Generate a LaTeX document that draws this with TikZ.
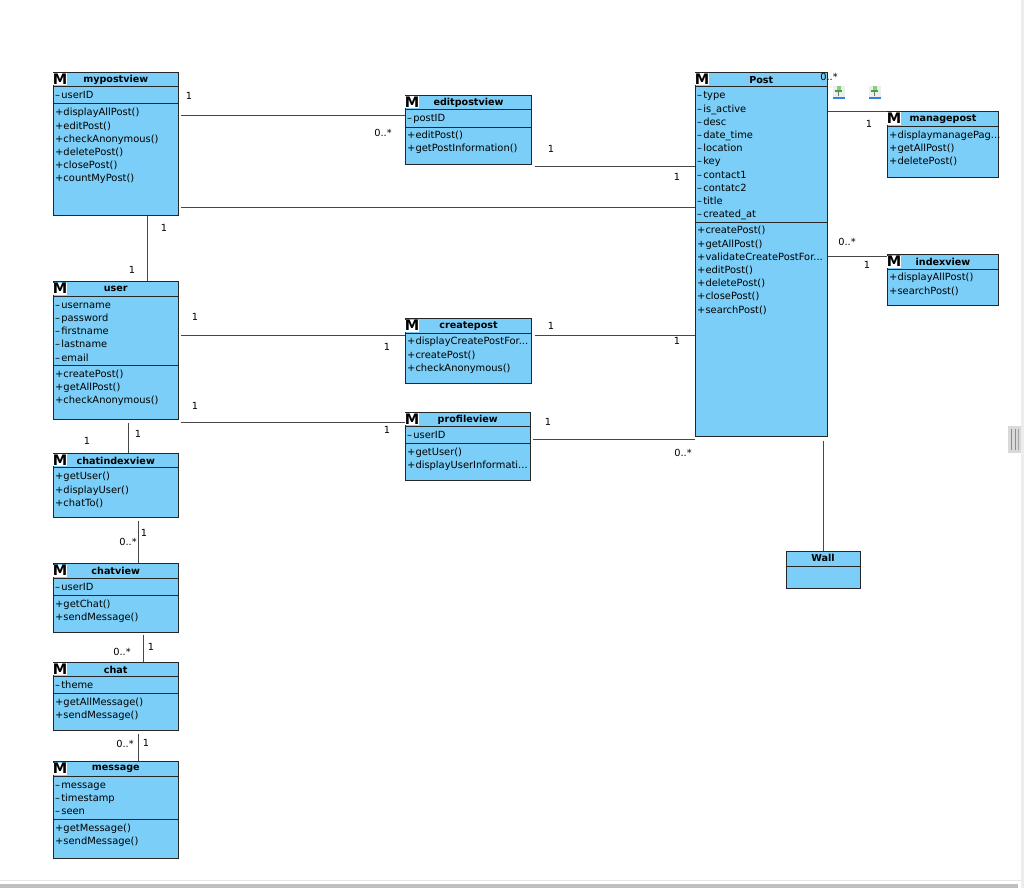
\documentclass[tikz,border=0pt]{standalone}
\usepackage{fontspec}
\setmainfont{DejaVu Sans}
\usepackage{tikz}
\usetikzlibrary{calc}
\definecolor{umlblue}{RGB}{122,206,247}
\definecolor{linegray}{RGB}{70,70,70}
\definecolor{pinback}{RGB}{236,240,236}
\definecolor{pinblue}{RGB}{50,130,225}
\definecolor{pingreen}{RGB}{60,170,50}

\newcommand{\umlclass}[6]{%
  \node[classbox, minimum width=#4, minimum height=#5] (#1) at (#2,#3) {};
  \node[classtitle] (#1title) at ($(#1.north)+(0,8.2)$) {#6};
  \node[classicon] (#1icon) at ($(#1.north west)+(7,7.5)$) {M};
}
\newcommand{\fl}{\rule{0pt}{9pt}}
\newcommand{\mn}{--\kern1.2pt}

\begin{document}
\begin{tikzpicture}[
  x=1pt, y=-1pt,
  classbox/.style={draw=black!85, fill=umlblue, line width=1pt, anchor=north west, inner sep=0pt},
  classtitle/.style={font=\fontsize{9.6}{12}\selectfont\bfseries, inner sep=0pt},
  classicon/.style={font=\fontsize{14.5}{15}\selectfont\bfseries, fill=white, inner sep=0pt, minimum width=12pt, minimum height=12pt, text height=10.5pt},
  members/.style={font=\fontsize{9.9}{13.2}\selectfont, align=left, anchor=north west, inner sep=0pt},
  sepline/.style={draw=black!85, line width=1pt},
  conn/.style={draw=linegray, line width=1pt},
  mult/.style={font=\fontsize{9.8}{12}\selectfont, inner sep=0pt},
]
\useasboundingbox (0,0) rectangle (1024,888);

% Window edges
\fill[black!7] (1021,0) rectangle (1024,888);
\fill[black!10] (0,880) rectangle (1021,881);
\fill[black!25] (0,884) rectangle (1018,888);
\fill[black!15] (1008,426) rectangle (1021,453);
\fill[black!45] (1011,429) rectangle (1012,450);
\fill[black!45] (1014.5,429) rectangle (1015.5,450);
\fill[black!35] (1018,429) rectangle (1019,450);

% Classes
\umlclass{mypost}{53}{72}{124.5}{142.5}{mypostview}
\umlclass{user}{53}{281}{124.5}{138}{user}
\umlclass{chatindex}{53}{452.5}{124.5}{64.5}{chatindexview}
\umlclass{chatview}{53}{563}{124.5}{68.5}{chatview}
\umlclass{chat}{53}{661.5}{124.5}{68.5}{chat}
\umlclass{message}{53}{761}{124.5}{96.5}{message}
\umlclass{editpost}{405}{95}{126}{69}{editpostview}
\umlclass{createpost}{405}{318}{126}{65}{createpost}
\umlclass{profile}{405}{411.5}{124.5}{68.5}{profileview}
\umlclass{post}{695}{72}{131.5}{364}{Post}
\umlclass{managepost}{887}{111}{111}{65.5}{managepost}
\umlclass{indexview}{887}{254}{111}{50.5}{indexview}
\node[classbox, minimum width=74, minimum height=37] (wall) at (785.5,551) {};
\node[classtitle] (walltitle) at ($(wall.north)+(0,7)$) {Wall};

% Compartments
\draw[sepline] (mypost.west |- 0,87) -- (mypost.east |- 0,87);
\draw[sepline] (mypost.west |- 0,104) -- (mypost.east |- 0,104);
\draw[sepline] (user.west |- 0,296) -- (user.east |- 0,296);
\draw[sepline] (user.west |- 0,365) -- (user.east |- 0,365);
\draw[sepline] (chatindex.west |- 0,467) -- (chatindex.east |- 0,467);
\draw[sepline] (chatview.west |- 0,578) -- (chatview.east |- 0,578);
\draw[sepline] (chatview.west |- 0,595) -- (chatview.east |- 0,595);
\draw[sepline] (chat.west |- 0,676) -- (chat.east |- 0,676);
\draw[sepline] (chat.west |- 0,693) -- (chat.east |- 0,693);
\draw[sepline] (message.west |- 0,776) -- (message.east |- 0,776);
\draw[sepline] (message.west |- 0,819) -- (message.east |- 0,819);
\draw[sepline] (editpost.west |- 0,110) -- (editpost.east |- 0,110);
\draw[sepline] (editpost.west |- 0,127) -- (editpost.east |- 0,127);
\draw[sepline] (createpost.west |- 0,333) -- (createpost.east |- 0,333);
\draw[sepline] (profile.west |- 0,426.5) -- (profile.east |- 0,426.5);
\draw[sepline] (profile.west |- 0,443.5) -- (profile.east |- 0,443.5);
\draw[sepline] (post.west |- 0,87) -- (post.east |- 0,87);
\draw[sepline] (post.west |- 0,222) -- (post.east |- 0,222);
\draw[sepline] (managepost.west |- 0,126) -- (managepost.east |- 0,126);
\draw[sepline] (indexview.west |- 0,269) -- (indexview.east |- 0,269);
\draw[sepline] (wall.west |- 0,566) -- (wall.east |- 0,566);

% Members
\node[members] (mypostattr) at (55,89.7) {\fl\mn userID};
\node[members] (mypostops) at (55,106.7) {\fl+displayAllPost()\\+editPost()\\+checkAnonymous()\\+deletePost()\\+closePost()\\+countMyPost()};
\node[members] (userattr) at (55,299) {\fl\mn username\\\mn password\\\mn firstname\\\mn lastname\\\mn email};
\node[members] (userops) at (55,368.3) {\fl+createPost()\\+getAllPost()\\+checkAnonymous()};
\node[members] (chatindexops) at (55,470.7) {\fl+getUser()\\+displayUser()\\+chatTo()};
\node[members] (chatviewattr) at (55,581.3) {\fl\mn userID};
\node[members] (chatviewops) at (55,598) {\fl+getChat()\\+sendMessage()};
\node[members] (chatattr) at (55,679) {\fl\mn theme};
\node[members] (chatops) at (55,696) {\fl+getAllMessage()\\+sendMessage()};
\node[members] (messageattr) at (55,779) {\fl\mn message\\\mn timestamp\\\mn seen};
\node[members] (messageops) at (55,822) {\fl+getMessage()\\+sendMessage()};
\node[members] (editpostattr) at (407,112.3) {\fl\mn postID};
\node[members] (editpostops) at (407,129) {\fl+editPost()\\+getPostInformation()};
\node[members] (createpostops) at (407,335.7) {\fl+displayCreatePostFor...\\+createPost()\\+checkAnonymous()};
\node[members] (profileattr) at (407,429.3) {\fl\mn userID};
\node[members] (profileops) at (407,446.3) {\fl+getUser()\\+displayUserInformati...};
\node[members] (postattr) at (697,89.7) {\fl\mn type\\\mn is\_active\\\mn desc\\\mn date\_time\\\mn location\\\mn key\\\mn contact1\\\mn contatc2\\\mn title\\\mn created\_at};
\node[members] (postops) at (697,224.7) {\fl+createPost()\\+getAllPost()\\+validateCreatePostFor...\\+editPost()\\+deletePost()\\+closePost()\\+searchPost()};
\node[members] (manageops) at (889,129) {\fl+displaymanagePag...\\+getAllPost()\\+deletePost()};
\node[members] (indexops) at (889,271.7) {\fl+displayAllPost()\\+searchPost()};

% Associations
\draw[conn] (mypost.east |- 0,115.5) ++(2.5,0) -- (editpost.west |- 0,115.5);
\draw[conn] (editpost.east |- 0,166.5) ++(2.5,0) -- (post.west |- 0,166.5);
\draw[conn] (mypost.east |- 0,207.5) ++(2.5,0) -- (post.west |- 0,207.5);
\draw[conn] (mypost.south -| 147.5,0) -- (user.north -| 147.5,0);
\draw[conn] (user.east |- 0,335.5) ++(2.5,0) -- (createpost.west |- 0,335.5);
\draw[conn] (createpost.east |- 0,335.5) ++(2.5,0) -- (post.west |- 0,335.5);
\draw[conn] (user.east |- 0,422.5) ++(2.5,0) -- (profile.west |- 0,422.5);
\draw[conn] (profile.east |- 0,439.5) ++(2.5,0) -- (post.west |- 0,439.5);
\draw[conn] (post.east |- 0,112) -- (managepost.west |- 0,112);
\draw[conn] (post.east |- 0,256.5) -- (indexview.west |- 0,256.5);
\draw[conn] (post.south -| 823.5,0) ++(0,3.5) -- (wall.north -| 823.5,0);
\draw[conn] (user.south -| 128.5,0) ++(0,3) -- (chatindex.north -| 128.5,0);
\draw[conn] (chatindex.south -| 138.5,0) ++(0,3) -- (chatview.north -| 138.5,0);
\draw[conn] (chatview.south -| 143,0) ++(0,2) -- (chat.north -| 143,0);
\draw[conn] (chat.south -| 138.5,0) ++(0,2.5) -- (message.north -| 138.5,0);

% Multiplicities
\node[mult] (m1) at (189,96) {1};
\node[mult] (m2) at (383,133) {0..*};
\node[mult] (m3) at (551,149) {1};
\node[mult] (m4) at (677,177) {1};
\node[mult] (m5) at (164,228) {1};
\node[mult] (m6) at (132,270) {1};
\node[mult] (m7) at (195,317) {1};
\node[mult] (m8) at (387,347) {1};
\node[mult] (m9) at (551,326) {1};
\node[mult] (m10) at (677,341) {1};
\node[mult] (m11) at (195,406) {1};
\node[mult] (m12) at (387,430) {1};
\node[mult] (m13) at (548,422) {1};
\node[mult] (m14) at (683,453) {0..*};
\node[mult] (m15) at (138,434) {1};
\node[mult] (m16) at (87,441) {1};
\node[mult] (m17) at (144,533) {1};
\node[mult] (m18) at (128,542) {0..*};
\node[mult] (m19) at (151,647) {1};
\node[mult] (m20) at (122,652) {0..*};
\node[mult] (m21) at (146,743) {1};
\node[mult] (m22) at (125,744) {0..*};
\node[mult] (m23) at (829,77) {0..*};
\node[mult] (m24) at (869,124) {1};
\node[mult] (m25) at (847,242) {0..*};
\node[mult] (m26) at (867,265) {1};

% Pins
\foreach \px in {832.5,868.5}{
  \fill[pinback] (\px,86) rectangle ++(12,12);
  \fill[pinblue] (\px,97) rectangle ++(12,1.8);
  \fill[pingreen] (\px+2.5,90) rectangle ++(7,2);
  \fill[pingreen!60] (\px+4,86) rectangle ++(4,4);
  \fill[black!55] (\px+5.5,92) rectangle ++(1,4);
}
\end{tikzpicture}
\end{document}
